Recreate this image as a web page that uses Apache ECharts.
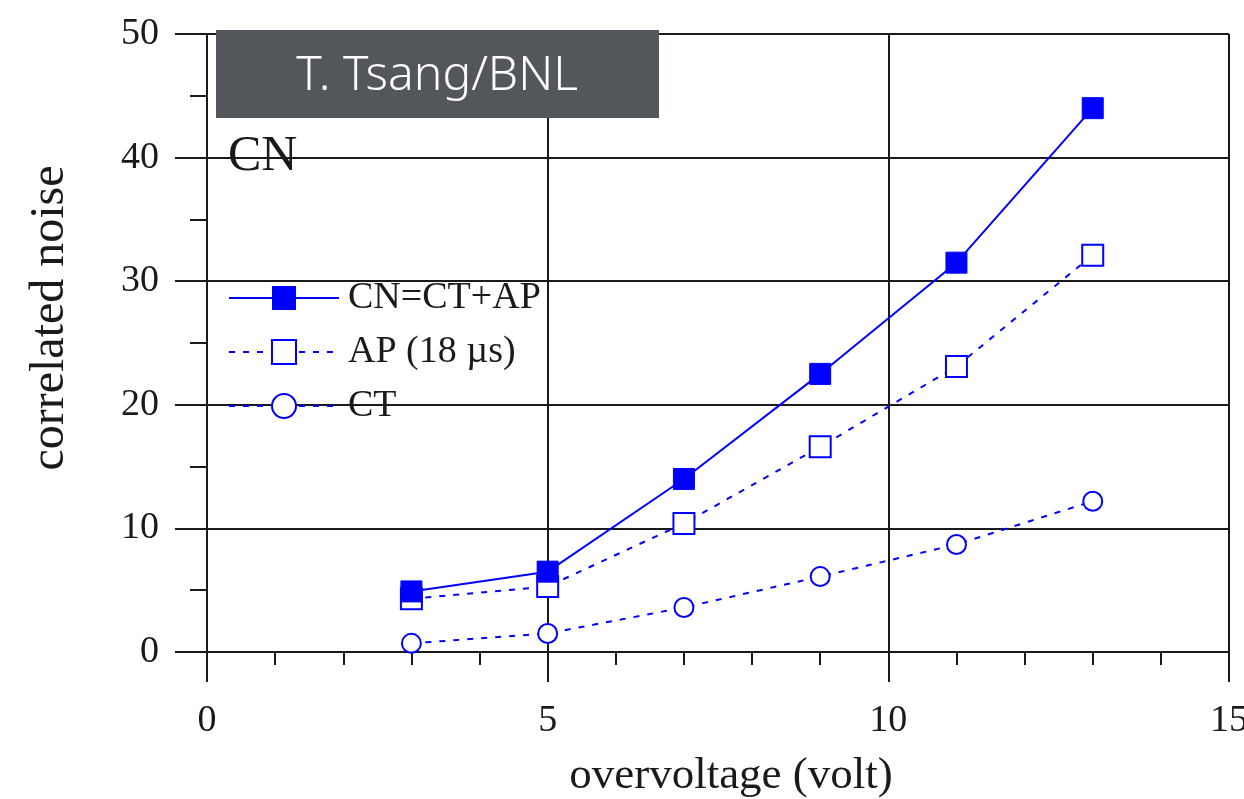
<!DOCTYPE html>
<html>
<head>
<meta charset="utf-8">
<script src="https://cdn.jsdelivr.net/npm/echarts@6/dist/echarts.min.js"></script>
<style>html,body{margin:0;padding:0;background:#fff}#c{width:1244px;height:799px}</style>
</head>
<body>
<div id="c"></div>
<script>
const overvoltage = [3, 5, 7, 9, 11, 13];
const cnValues = [4.9, 6.5, 14.0, 22.5, 31.5, 44.0];
const apValues = [4.3, 5.3, 10.4, 16.6, 23.1, 32.1];
const ctValues = [0.7, 1.5, 3.6, 6.1, 8.7, 12.2];
const seriesNames = ['CN=CT+AP', 'AP (18 \u00b5s)', 'CT'];

const pair = (xs, ys) => xs.map((x, i) => [x, ys[i]]);
const serif = '"Liberation Serif", "DejaVu Serif", serif';
const ink = '#1a1a1a';
const blue = '#0000ff';

const chart = echarts.init(document.getElementById('c'), null, {renderer: 'canvas'});
chart.setOption({
  animation: false,
  backgroundColor: '#ffffff',
  grid: {left: 207, right: 15, top: 34, bottom: 147, containLabel: false, outerBoundsMode: 'none'},
  xAxis: {
    type: 'value', min: 0, max: 15, interval: 5,
    name: 'overvoltage (volt)', nameLocation: 'middle', nameGap: 102,
    nameTextStyle: {fontFamily: serif, fontSize: 45, color: ink, padding: [0, 0, 0, 26]},
    axisLine: {show: true, onZero: false, lineStyle: {color: ink, width: 2}},
    axisTick: {show: true, inside: false, length: 30, lineStyle: {color: ink, width: 2}},
    minorTick: {show: true, splitNumber: 5, length: 13, lineStyle: {color: ink, width: 2}},
    axisLabel: {fontFamily: serif, fontSize: 38, color: ink, margin: 50},
    splitLine: {show: true, lineStyle: {color: ink, width: 2}},
    minorSplitLine: {show: false}
  },
  yAxis: {
    type: 'value', min: 0, max: 50, interval: 10,
    name: 'correlated noise', nameLocation: 'middle', nameGap: 133,
    nameTextStyle: {fontFamily: serif, fontSize: 48, color: ink, padding: [0, 0, 0, 50]},
    axisLine: {show: true, lineStyle: {color: ink, width: 2}},
    axisTick: {show: true, inside: false, length: 32, lineStyle: {color: ink, width: 2}},
    minorTick: {show: true, splitNumber: 2, length: 17, lineStyle: {color: ink, width: 2}},
    axisLabel: {fontFamily: serif, fontSize: 38, color: ink, margin: 48},
    splitLine: {show: true, lineStyle: {color: ink, width: 2}}
  },
  legend: {
    left: 228, top: 279, orient: 'vertical', padding: 0,
    itemWidth: 110, itemHeight: 30, itemGap: 16,
    textStyle: {fontFamily: serif, fontSize: 38, color: ink, lineHeight: 38, padding: [0, 0, 0, 4]},
    data: seriesNames
  },
  graphic: [
    {type: 'rect', left: 216, top: 30, shape: {width: 443, height: 88}, style: {fill: '#53575c'}, z: 100},
    {type: 'text', x: 437, y: 52, z: 101,
     style: {text: 'T. Tsang/BNL', fill: '#ffffff', align: 'center', font: '300 48px "Noto Sans", "Open Sans", sans-serif'}},
    {type: 'text', left: 228, top: 132, z: 50,
     style: {text: 'CN', fill: ink, font: '50px "Liberation Serif", serif'}}
  ],
  series: [
    {name: seriesNames[0], type: 'line', data: pair(overvoltage, cnValues),
     symbol: 'rect', symbolSize: 21, showSymbol: true,
     lineStyle: {color: blue, width: 2, type: 'solid'},
     itemStyle: {color: blue, borderColor: blue}, z: 5},
    {name: seriesNames[1], type: 'line', data: pair(overvoltage, apValues),
     symbol: 'emptyRect', symbolSize: 21, showSymbol: true,
     lineStyle: {color: blue, width: 2, type: [6, 8]},
     itemStyle: {color: blue, borderColor: blue, borderWidth: 2}, z: 4},
    {name: seriesNames[2], type: 'line', data: pair(overvoltage, ctValues),
     symbol: 'emptyCircle', symbolSize: 19, showSymbol: true,
     lineStyle: {color: blue, width: 2, type: [6, 8]},
     itemStyle: {color: blue, borderColor: blue, borderWidth: 2}, z: 4}
  ]
});
</script>
</body>
</html>
